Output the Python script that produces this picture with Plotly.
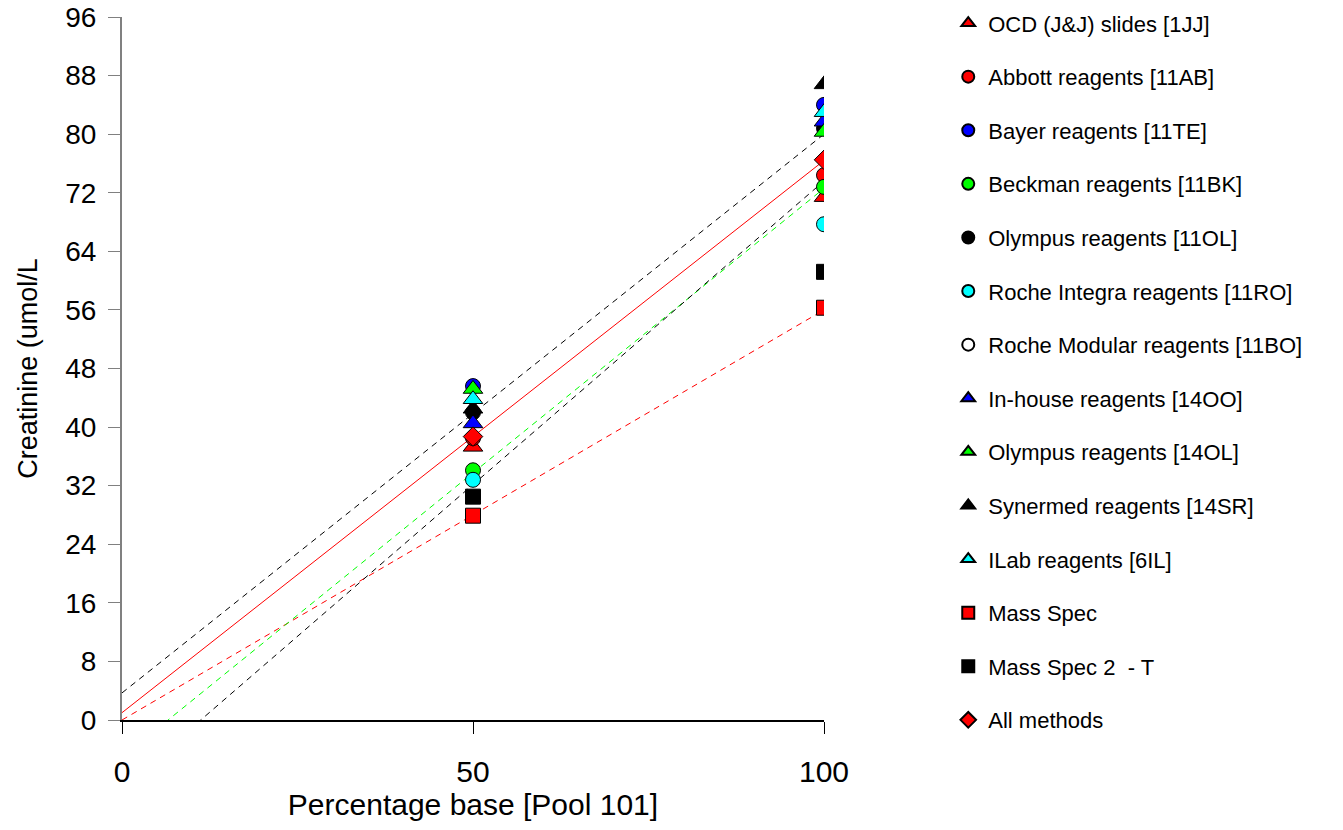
import plotly.graph_objects as go
import numpy as np

# ---- data ----
x_levels = [50, 100]

series_names = [
    "OCD (J&J) slides [1JJ]",
    "Abbott reagents [11AB]",
    "Bayer reagents [11TE]",
    "Beckman reagents [11BK]",
    "Olympus reagents [11OL]",
    "Roche Integra reagents [11RO]",
    "Roche Modular reagents [11BO]",
    "In-house reagents [14OO]",
    "Olympus reagents [14OL]",
    "Synermed reagents [14SR]",
    "ILab reagents [6IL]",
    "Mass Spec",
    "Mass Spec 2  - T",
    "All methods",
]

ocd = [37.3, 71.4]
abbott = [38.5, 74.4]
bayer = [45.6, 84.0]
beckman = [34.1, 72.8]
olympus_11ol = [42.0, 80.8]
roche_integra = [32.8, 67.7]
roche_modular = [None, None]
inhouse = [40.5, 81.7]
olympus_14ol = [45.2, 80.3]
synermed = [42.5, 86.8]
ilab = [43.8, 83.0]
mass_spec = [27.9, 56.3]
mass_spec2 = [30.5, 61.2]
all_methods = [38.7, 76.5]

series_values = [ocd, abbott, bayer, beckman, olympus_11ol, roche_integra,
                 roche_modular, inhouse, olympus_14ol, synermed, ilab,
                 mass_spec, mass_spec2, all_methods]

series_symbols = ["triangle-up", "circle", "circle", "circle", "circle", "circle",
                  "circle", "triangle-up", "triangle-up", "triangle-up", "triangle-up",
                  "square", "square", "diamond"]
series_colors = ["#FF0000", "#FF0000", "#0000FF", "#00FF00", "#000000", "#00FFFF",
                 "#FFFFFF", "#0000FF", "#00FF00", "#000000", "#00FFFF",
                 "#FF0000", "#000000", "#FF0000"]

# trendlines: slope, intercept, colour, dash
trend_slopes = [0.763, 0.754, 0.560, 0.777, 0.829]
trend_intercepts = [3.7, 1.0, 0.0, -5.1, -9.3]
trend_colors = ["#000000", "#FF0000", "#FF0000", "#00FF00", "#000000"]
trend_dashes = ["dash", "solid", "dash", "dash", "dash"]

y_ticks = list(range(0, 97, 8))
x_ticks = [0, 50, 100]

FONT = "Liberation Sans, Arial, sans-serif"

fig = go.Figure()

xs = np.array([0.0, 100.0])
for s, b, c, d in zip(trend_slopes, trend_intercepts, trend_colors, trend_dashes):
    fig.add_trace(go.Scatter(x=xs, y=s * xs + b, mode="lines",
                             line=dict(color=c, width=1, dash="6px,5px" if d == "dash" else "solid"),
                             showlegend=False, hoverinfo="skip"))

for i, (name, vals, sym, col) in enumerate(zip(series_names, series_values,
                                                 series_symbols, series_colors)):
    size = 15 if sym in ("circle", "square", "diamond") else 17
    fig.add_trace(go.Scatter(
        x=x_levels, y=vals, mode="markers", name=name,
        legendgroup=f"g{i}",
        marker=dict(symbol=sym, color=col, size=size,
                    line=dict(color="#000000", width=1)),
    ))

fig.update_layout(
    width=1343, height=830,
    margin=dict(l=122, r=519, t=17, b=110, autoexpand=False),
    paper_bgcolor="white", plot_bgcolor="white",
    font=dict(family=FONT, color="black"),
    legend=dict(x=1.177, y=1.021, xanchor="left", yanchor="top",
                font=dict(size=22, family=FONT),
                tracegroupgap=22, itemsizing="constant", maxheight=900,
                bgcolor="rgba(0,0,0,0)"),
    xaxis=dict(range=[0, 100], tickvals=x_ticks, ticks="outside", ticklen=12,
               tickcolor="black", showline=True, linecolor="black", linewidth=1.5,
               showgrid=False, zeroline=False, tickfont=dict(size=30),
               ticklabelstandoff=12, automargin=False,
               title=dict(text="Percentage base [Pool 101]", font=dict(size=30), standoff=6)),
    yaxis=dict(range=[0, 96], tickvals=y_ticks, ticks="outside", ticklen=12,
               tickcolor="#808080", showline=True, linecolor="#808080", linewidth=2,
               showgrid=False, zeroline=False, tickfont=dict(size=28),
               ticklabelstandoff=6, automargin=False,
               title=dict(text="Creatinine (umol/L", font=dict(size=27), standoff=20)),
)

fig.write_html("out.html")
